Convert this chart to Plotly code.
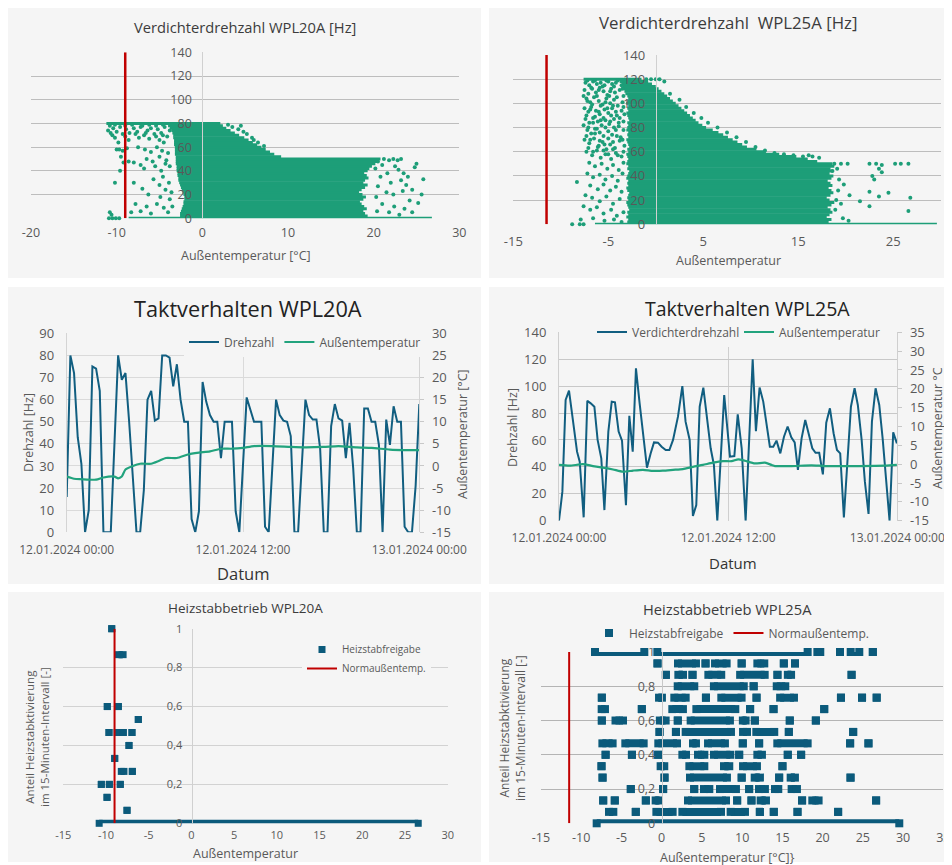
import pandas as pd
import plotly.graph_objects as go

# The page body has an 8 px margin: the figure is drawn 8 px in, so its size is reduced by that.
W, H = 952, 865
OFF = 8
WF, HF = W - OFF, H - OFF
FONT = "Open Sans"
PANEL_BG = "#f5f5f5"
TICK_C = "#595959"
TITLE_C = "#3c3c3c"
GREEN = "#1d9e78"
TEMP_GREEN = "#22a37d"
TEAL = "#115e80"
SQUARE = "#0b5a7b"
RED = "#c00000"

# ====================== DATA ======================
# --- Panel 1: Verdichterdrehzahl WPL20A (dense band per Hz level + single points)
nat_20 = -9.0
y1_range = [0, 140]
x1_ticks = [-20, -10, 0, 10, 20, 30]
y1_ticks = [0, 20, 40, 60, 80, 100, 120, 140]
levels_20 = [0, 2, 4, 6, 8, 10, 12, 14, 16, 18, 20, 22, 24, 26, 28, 30, 32, 34, 36, 38, 40,
             42, 44, 46, 48, 50, 52, 54, 56, 58, 60, 62, 64, 66, 68, 70, 72, 74, 76, 78, 80]
xmin_20 = [-8.6, -2.6, -2.6, -2.5, -2.4, -2.3, -2.2, -2.2, -2.1, -2.1, -2.2, -2.3, -2.4, -2.5,
           -2.6, -2.7, -2.8, -2.8, -2.9, -2.9, -3.0, -3.0, -3.0, -3.1, -3.1, -3.1, -3.1, -3.2,
           -3.2, -3.2, -3.2, -3.3, -3.3, -3.3, -3.4, -3.4, -3.5, -3.6, -3.8, -4.0, -11.2]
xmax_20 = [26.8, 19.3, 19.0, 18.8, 19.2, 18.9, 18.6, 18.4, 18.8, 19.1, 18.7, 18.3, 18.6, 19.0,
           19.3, 18.8, 19.0, 19.4, 19.2, 18.9, 19.3, 19.5, 19.8, 20.2, 20.5, 20.8, 9.2, 8.4,
           7.9, 7.4, 6.9, 6.4, 5.9, 5.4, 4.9, 4.3, 3.8, 3.3, 2.8, 2.4, 2.1]
points_20 = [
    (-11.0, 74), (-10.7, 72), (-10.4, 76), (-10.0, 73), (-9.6, 77), (-9.3, 71), (-8.9, 75), (-8.5, 72),
    (-8.0, 76), (-7.6, 73), (-7.2, 77), (-6.8, 70), (-6.4, 74), (-6.0, 76), (-5.6, 71), (-5.2, 75),
    (-4.8, 72), (-4.4, 77), (-4.1, 69), (-3.8, 74), (-10.2, 68), (-8.6, 66), (-7.4, 68), (-6.2, 67),
    (-5.0, 66), (-4.5, 64), (-9.8, 64), (-10.0, 58), (-9.7, 58), (-9.3, 57), (-8.8, 59), (-7.5, 60),
    (-6.7, 58), (-6.0, 56), (-5.3, 60), (-4.7, 57), (-4.0, 55), (-9.5, 52), (-8.6, 48), (-9.2, 47),
    (-8.0, 47), (-7.2, 45), (-6.5, 50), (-5.8, 48), (-5.0, 52), (-4.2, 49), (-3.8, 44), (-9.6, 40),
    (-6.8, 42), (-5.5, 44), (-4.8, 40), (-4.3, 46), (-10.2, 30), (-8.0, 30), (-5.7, 33), (-4.6, 35),
    (-3.9, 30), (-7.0, 25), (-5.0, 28), (-4.3, 24), (-3.6, 22), (-6.3, 20), (-4.9, 18), (-3.8, 16),
    (-7.8, 12), (-6.5, 10), (-5.3, 12), (-4.5, 9), (-3.5, 10), (-8.3, 5), (-7.2, 6), (-6.0, 4),
    (-4.0, 5), (-10.8, 5), (-10.6, 3), (-10.9, 0), (-10.5, 0), (-10.1, 0), (-9.7, 0),
    (-10.8, 78), (-10.2, 79), (-9.0, 78), (-8.2, 79), (-7.0, 78), (-6.2, 79), (-5.4, 78), (-4.6, 79),
    (-10.5, 70), (-9.0, 69), (-7.8, 71), (-6.6, 72), (-5.4, 69), (-4.6, 70),
    (3.0, 79), (3.5, 77), (4.5, 78), (4.2, 75), (4.8, 73), (5.2, 71), (5.8, 68), (6.0, 66), (6.5, 64),
    (7.2, 61), (20.5, 48), (21.2, 50), (21.8, 49), (22.3, 50), (22.8, 49), (23.2, 50), (21.0, 45),
    (22.5, 44), (25.0, 46), (24.8, 43), (23.5, 38), (24.0, 35), (23.2, 32), (25.8, 33), (22.0, 30),
    (20.5, 27), (23.8, 28), (24.5, 24), (25.6, 20), (21.5, 22), (22.3, 20), (20.3, 18), (23.4, 23),
    (24.2, 15), (25.2, 13), (21.0, 12), (22.4, 10), (23.6, 8), (20.4, 6), (21.8, 5), (23.0, 3),
    (24.5, 5), (20.8, 35), (21.6, 38), (22.9, 41), (20.2, 42)]

# --- Panel 2: Verdichterdrehzahl WPL25A
nat_25 = -11.5
y2_range = [0, 140]
x2_ticks = [-15, -5, 5, 15, 25]
y2_ticks = [0, 20, 40, 60, 80, 100, 120, 140]
levels_25 = [0, 2, 4, 6, 8, 10, 12, 14, 16, 18, 20, 22, 24, 26, 28, 30, 32, 34, 36, 38, 40,
             42, 44, 46, 48, 50, 52, 54, 56, 58, 60, 62, 64, 66, 68, 70, 72, 74, 76, 78, 80,
             82, 84, 86, 88, 90, 92, 94, 96, 98, 100, 102, 104, 106, 108, 110, 112, 114, 116,
             118, 120]
xmin_25 = [-6.4,
           -3.0, -2.9, -3.1, -2.9, -3.0, -2.8, -2.9, -3.0, -3.1, -2.9,
           -3.0, -2.9, -2.8, -3.0, -3.1, -2.9, -3.0, -2.9, -3.1, -3.0,
           -2.9, -2.8, -3.0, -2.9, -3.1, -3.0, -2.9, -3.0, -3.1, -2.9,
           -3.0, -2.8, -2.9, -3.0, -3.1, -2.9, -3.0, -2.9, -3.1, -3.0,
           -2.9, -3.0, -2.8, -2.9, -3.0, -3.1, -2.9, -3.0, -2.9, -3.1,
           -3.0, -2.9, -3.0, -3.2, -3.3, -3.4, -3.5, -3.6, -3.8,
           -7.6]
xmax_25 = [29.6,
           18.2, 18.5, 18.0, 18.3, 18.6, 18.4, 18.1, 18.5, 18.8, 18.3, 18.0, 18.4,
           18.7, 18.5, 18.2, 18.6, 18.4, 18.1, 18.5, 18.7, 18.3, 18.6, 18.4, 18.8,
           18.6,
           17.0, 16.0, 14.8, 13.0, 11.6, 10.6, 9.6, 9.1, 8.6, 8.1, 7.6, 7.1, 6.6, 6.0,
           5.3, 4.9, 4.5, 4.2, 3.9, 3.6, 3.3, 3.0, 2.7, 2.4, 2.1, 1.8, 1.5, 1.2, 0.9,
           0.6, 0.3, 0.0, -0.4, -0.8,
           -1.5]
points_25 = [
    (-7.4, 117), (-7.0, 115), (-6.6, 118), (-6.2, 116), (-5.8, 117), (-5.4, 115), (-5.0, 118),
    (-4.6, 116), (-4.2, 117), (-3.6, 115), (-7.5, 111), (-7.1, 108), (-6.7, 112), (-6.3, 109),
    (-5.9, 113), (-5.5, 110), (-5.1, 107), (-4.7, 112), (-4.3, 109), (-3.8, 111), (-3.4, 106),
    (-7.3, 104), (-6.9, 101), (-6.5, 105), (-6.0, 102), (-5.6, 99), (-5.2, 104), (-4.8, 100),
    (-4.4, 103), (-4.0, 98), (-3.5, 101), (-7.5, 96), (-7.1, 93), (-6.8, 97), (-6.3, 94), (-5.9, 91),
    (-5.4, 95), (-5.0, 92), (-4.6, 96), (-4.1, 90), (-3.6, 94), (-7.4, 87), (-7.0, 84), (-6.6, 88),
    (-6.1, 85), (-5.7, 82), (-5.3, 86), (-4.9, 83), (-4.4, 87), (-3.9, 81), (-3.4, 85), (-7.2, 78),
    (-6.8, 75), (-6.4, 79), (-5.9, 76), (-5.5, 73), (-5.0, 77), (-4.6, 74), (-4.2, 78), (-3.7, 72),
    (-7.5, 70), (-7.0, 67), (-6.5, 71), (-6.1, 64), (-5.6, 68), (-5.2, 62), (-4.8, 66), (-4.3, 63),
    (-3.8, 69), (-3.3, 65), (-7.3, 60), (-6.7, 57), (-6.2, 61), (-5.8, 55), (-5.3, 58), (-4.7, 54),
    (-4.2, 59), (-3.6, 56), (-7.0, 51), (-6.4, 48), (-5.7, 50), (-5.1, 46), (-4.5, 49), (-3.9, 45),
    (-3.4, 51), (-7.2, 42), (-6.6, 39), (-5.9, 41), (-5.3, 37), (-4.6, 40), (-4.0, 36), (-3.5, 42),
    (-8.3, 35), (-6.9, 32), (-6.1, 29), (-5.5, 33), (-4.8, 28), (-4.2, 31), (-3.6, 27), (-7.4, 24),
    (-6.7, 22), (-5.9, 19), (-5.2, 23), (-4.5, 17), (-3.8, 21), (-7.6, 15), (-6.9, 12), (-6.2, 14),
    (-5.5, 9), (-4.7, 12), (-4.1, 7), (-3.4, 10), (-7.9, 4), (-6.6, 5), (-5.4, 3), (-4.4, 4),
    (-3.6, 2), (-8.8, 0), (-8.0, 0), (-7.6, 0),
    (-7.2, 119), (-6.8, 113), (-6.4, 119), (-6.0, 111), (-5.6, 114), (-5.2, 119), (-4.8, 110),
    (-4.4, 114), (-4.0, 119), (-3.5, 112), (-7.6, 106), (-7.2, 102), (-6.7, 99), (-6.2, 106),
    (-5.8, 98), (-5.3, 101), (-4.9, 106), (-4.5, 98), (-4.1, 105), (-3.4, 97), (-7.3, 90), (-6.9, 95),
    (-6.4, 89), (-6.0, 93), (-5.5, 88), (-5.1, 96), (-4.7, 90), (-4.2, 93), (-3.8, 88), (-3.3, 91),
    (-7.6, 82), (-7.1, 80), (-6.6, 84), (-6.2, 79), (-5.8, 86), (-5.3, 80), (-4.8, 85), (-4.4, 80),
    (-3.9, 84), (-3.4, 78), (-7.3, 73), (-6.9, 70), (-6.4, 75), (-5.9, 69), (-5.4, 66), (-5.0, 71),
    (-4.5, 68), (-4.1, 73), (-3.5, 70), (-7.1, 63), (-6.6, 60), (-6.0, 65), (-5.5, 61), (-5.0, 58),
    (-4.5, 62), (-4.0, 57), (-3.4, 60),
    (-1.0, 120), (-0.5, 120), (0.0, 120), (0.4, 120), (0.9, 118), (1.5, 108), (2.5, 103), (3.2, 97),
    (4.0, 92), (4.8, 88), (5.5, 84), (6.5, 80), (7.5, 76), (8.5, 72), (9.5, 68), (10.5, 64),
    (11.5, 61), (12.5, 59), (13.5, 58), (14.5, 57), (15.5, 56), (16.5, 56), (17.2, 55), (16.1, 57),
    (18.8, 50), (19.5, 50), (20.2, 50), (22.5, 50), (23.2, 50), (23.8, 49), (25.2, 50), (25.8, 50),
    (26.6, 50), (23.5, 46), (23.8, 43), (22.8, 40), (23.0, 37), (19.3, 37), (19.8, 33), (22.5, 27),
    (24.5, 26), (26.8, 22), (23.5, 23), (19.0, 20), (19.5, 17), (21.5, 19), (22.5, 15), (26.6, 11),
    (19.2, 28), (20.4, 24), (19.7, 5), (20.3, 3), (18.9, 12), (18.6, 44), (19.1, 46)]

# --- Panel 3: Taktverhalten WPL20A (hours after 12.01.2024 00:00)
h20 = [0, 0.25, 0.5, 0.75, 1.0, 1.25, 1.5, 1.75, 2.0, 2.25, 2.5, 2.75, 3.0, 3.5, 3.75, 4.0, 4.25,
       4.75, 5.0, 5.25, 5.5, 5.75, 6.0, 6.25, 6.5, 6.75, 7.0, 7.25, 7.5, 7.75, 8.0, 8.25, 8.5,
       8.75, 9.0, 9.25, 9.5, 9.75, 10.0, 10.25, 10.5, 10.75, 11.0, 11.25, 11.5, 11.75, 12.25,
       12.5, 12.75, 13.0, 13.25, 13.5, 13.75, 14.25, 14.5, 14.75, 15.0, 15.25, 15.5, 15.75,
       16.25, 16.5, 16.75, 17.0, 17.25, 17.5, 17.75, 18.0, 18.25, 18.5, 18.75, 19.0, 19.25,
       19.5, 19.75, 20.0, 20.25, 20.5, 20.75, 21.0, 21.25, 21.5, 21.75, 22.0, 22.25, 22.5,
       22.75, 23.0, 23.25, 23.5, 23.75, 24.0]
drehzahl_20 = [16, 80, 72, 43, 31, 0, 10, 75, 74, 64, 0, 0, 0, 80, 69, 72, 50, 0, 0, 19, 60, 64,
               50.5, 51.5, 80, 80, 79, 66, 76, 60, 50, 50, 6, 0, 9.5, 68, 59, 53, 50, 50, 33.5,
               50, 50, 50, 9.5, 0, 61, 55, 50, 50, 50, 2.5, 0, 60, 53, 50.5, 50, 43.5, 0, 0, 60,
               53, 51, 51, 38, 0, 0, 48, 58, 51.5, 50.5, 33.5, 49.5, 29, 0, 0, 56, 56, 50, 50,
               39.5, 0, 51, 39.5, 57, 50, 50, 2.5, 0, 0, 21, 58]
t20_h = [0, 0.5, 1.0, 2.0, 2.5, 3.25, 3.5, 3.75, 4.0, 4.5, 5.0, 5.75, 6.25, 6.75, 7.5, 8.25, 9.0,
         9.75, 10.5, 11.25, 12.0, 12.75, 14.0, 15.25, 16.25, 17.5, 18.5, 19.75, 20.75, 22.0,
         23.0, 24.0]
temp_20 = [-2.4, -2.9, -3.0, -3.1, -2.6, -2.4, -2.8, -2.4, -0.8, 0.0, 0.5, 0.5, 1.1, 1.8, 1.8,
           2.6, 3.0, 3.3, 3.9, 3.9, 4.1, 4.5, 4.5, 4.3, 4.2, 4.3, 4.5, 4.2, 4.1, 3.7, 3.6, 3.6]
y3_ticks = [0, 10, 20, 30, 40, 50, 60, 70, 80, 90]
y4_ticks = [-15, -10, -5, 0, 5, 10, 15, 20, 25, 30]

# --- Panel 4: Taktverhalten WPL25A
h25 = [0, 0.24, 0.47, 0.71, 1.28, 1.47, 1.75, 2.01, 2.25, 2.51, 2.74, 3.0, 3.22, 3.5, 3.74,
       3.97, 4.23, 4.47, 4.75, 4.99, 5.23, 5.46, 5.72, 5.96, 6.24, 6.5, 6.74, 7.02, 7.28, 7.57,
       7.83, 8.09, 8.44, 8.75, 8.98, 9.27, 9.5, 9.74, 9.98, 10.24, 10.5, 10.76, 10.99, 11.23,
       11.72, 12.13, 12.44, 12.68, 12.96, 13.24, 13.74, 13.97, 14.23, 14.49, 14.96, 15.2,
       15.43, 15.7, 15.96, 16.22, 16.48, 16.72, 16.95, 17.21, 17.47, 17.7, 17.97, 18.2, 18.46,
       18.72, 18.96, 19.22, 19.48, 19.72, 19.95, 20.21, 20.71, 20.97, 21.2, 21.47, 21.7, 21.96,
       22.2, 22.46, 22.72, 22.96, 23.19, 23.45, 23.71, 23.97]
drehzahl_25 = [0, 21.6, 89.7, 96.6, 51.3, 43.9, 2.5, 89.2, 87.2, 84.7, 60, 46.3, 7.9, 66.2, 88.5,
               88, 66.2, 59.5, 11.6, 78, 51.3, 113.2, 87.2, 66, 39.4, 50, 58.2, 58, 55, 52.5,
               52.5, 60, 77.3, 100, 73.6, 60, 3.5, 11.6, 84.7, 98.9, 77.3, 53.8, 41.4, 0, 93.4,
               47.6, 48, 79, 53.8, 0, 120, 66.6, 99, 88.5, 55, 55, 59.5, 50, 62.4, 70, 62, 58.2,
               37.7, 61.2, 74.8, 65, 53.8, 50.5, 50.5, 34.4, 72.8, 83.5, 65, 52.5, 50, 2.5, 84.7,
               98.4, 86, 60, 29, 5, 73.6, 98.4, 86, 61.2, 34, 0, 65.7, 57.5]
t25_h = [0, 0.76, 1.7, 2.41, 3.12, 3.83, 4.54, 5.25, 5.96, 6.67, 7.38, 8.09, 8.79, 9.5, 10.21,
         10.92, 11.63, 12.25, 12.72, 13.19, 13.9, 14.61, 15.08, 15.32, 16.5, 17.92, 18.87,
         21.23, 23.12, 23.97]
temp_25 = [-0.2, -0.4, 0.0, -0.5, -0.9, -1.4, -2.0, -1.7, -1.5, -1.8, -1.7, -1.5, -1.3, -0.7,
           -0.2, 0.4, 0.8, 0.8, 1.3, 0.9, 0.2, 0.4, -0.2, -0.5, -0.5, -0.3, -0.5, -0.5, -0.4, -0.2]
y5_ticks = [0, 20, 40, 60, 80, 100, 120, 140]
y6_ticks = [-15, -10, -5, 0, 5, 10, 15, 20, 25, 30, 35]
date_ticks = ["2024-01-12 00:00", "2024-01-12 12:00", "2024-01-13 00:00"]
date_labels = ["12.01.2024 00:00", "12.01.2024 12:00", "13.01.2024 00:00"]

# --- Panel 5/6: Heizstabbetrieb (row = 15-min share k/15, x_start, x_end)
heiz_20 = [
    (15, -9.33, -9.33), (13, -8.55, -8.0), (9, -9.85, -9.85), (9, -8.56, -8.56), (8, -6.22, -6.22),
    (7, -9.65, -9.65), (7, -8.68, -8.68), (7, -7.98, -7.98), (7, -6.96, -6.96), (6, -7.31, -7.31),
    (5, -8.98, -8.98), (4, -8.21, -7.9), (4, -6.92, -6.92), (3, -10.55, -10.55), (3, -9.61, -9.61),
    (3, -8.33, -8.33), (2, -9.88, -9.88), (1, -7.54, -7.54), (0, -10.8, 26.55)]
heiz_25 = [
    (15, -8.29, -2.16), (15, -0.54, 18.14), (15, 19.35, 19.71), (15, 22.16, 22.16), (15, 23.49, 24.56),
    (15, 26.24, 26.24),
    (14, -0.52, -0.52), (14, 2.03, 4.26), (14, 5.45, 5.45), (14, 6.63, 8.07), (14, 9.94, 9.94),
    (14, 11.89, 12.75), (14, 15.18, 15.18), (14, 16.57, 16.57),
    (13, 0.52, 0.52), (13, 2.07, 2.65), (13, 3.83, 3.83), (13, 5.8, 7.4), (13, 9.75, 12.8),
    (13, 14.39, 14.39), (13, 15.68, 16.08), (13, 23.6, 23.6),
    (12, 1.99, 4.05), (12, 6.49, 10.2), (12, 11.43, 11.43), (12, 14.3, 15.36),
    (11, -7.44, -7.44), (11, -0.33, 0.03), (11, 1.57, 2.98), (11, 5.5, 5.5), (11, 7.41, 9.93),
    (11, 11.79, 11.79), (11, 14.72, 16.44), (11, 22.28, 22.28), (11, 24.9, 24.9), (11, 26.72, 26.72),
    (10, -7.46, -7.05), (10, -2.47, -2.47), (10, 1.32, 2.64), (10, 4.31, 9.15), (10, 10.99, 10.99),
    (10, 13.9, 13.9), (10, 20.2, 20.2),
    (9, -7.44, -7.44), (9, -5.74, -4.81), (9, -0.23, 0.49), (9, 2.0, 2.0), (9, 3.6, 8.48),
    (9, 10.09, 10.43), (9, 11.58, 11.58), (9, 15.92, 15.92), (9, 19.16, 19.16),
    (8, -0.27, -0.27), (8, 1.77, 1.77), (8, 2.98, 8.61), (8, 10.11, 10.6), (8, 11.76, 13.99),
    (8, 15.8, 15.8), (8, 23.8, 23.8),
    (7, -7.37, -6.1), (7, -4.52, -2.24), (7, -0.42, 1.9), (7, 3.89, 4.26), (7, 5.76, 7.86),
    (7, 10.08, 10.08), (7, 12.11, 12.11), (7, 14.37, 18.14), (7, 23.42, 23.42), (7, 25.7, 25.7),
    (6, -6.97, -6.97), (6, -3.7, -3.7), (6, -0.44, -0.44), (6, 2.57, 3.02), (6, 4.51, 5.3),
    (6, 6.5, 8.53), (6, 9.63, 9.63), (6, 11.89, 12.46), (6, 15.67, 15.67), (6, 17.33, 17.33),
    (5, -7.48, -7.48), (5, -0.13, 0.32), (5, 3.44, 5.3), (5, 7.74, 8.4), (5, 10.11, 11.84),
    (5, 15.01, 15.01),
    (4, -7.35, -7.35), (4, 0.35, 0.35), (4, 3.52, 8.11), (4, 9.94, 9.94), (4, 11.56, 12.21),
    (4, 14.6, 14.6), (4, 16.03, 16.56), (4, 23.47, 23.47),
    (3, -3.84, -3.84), (3, 0.18, 0.18), (3, 4.04, 4.04), (3, 5.26, 5.92), (3, 7.25, 9.23),
    (3, 10.87, 10.87), (3, 12.09, 12.83), (3, 14.08, 14.49), (3, 16.15, 16.81),
    (2, -7.27, -7.27), (2, -5.83, -5.83), (2, -1.97, -1.97), (2, -0.75, -0.38), (2, 3.27, 7.99),
    (2, 9.38, 9.38), (2, 11.16, 11.16), (2, 12.3, 12.96), (2, 17.45, 17.45), (2, 18.72, 19.5),
    (2, 26.65, 26.65),
    (1, -6.55, -6.01), (1, -3.22, -3.22), (1, -0.66, 1.36), (1, 2.57, 7.37), (1, 8.57, 10.35),
    (1, 12.2, 12.2), (1, 13.93, 13.93), (1, 16.88, 16.88), (1, 21.93, 21.93),
    (0, -8.08, 29.53)]
intervals = 15
share_range = [0, 1]
x5_ticks = [-15, -10, -5, 0, 5, 10, 15, 20, 25, 30]
x6_ticks = [-15, -10, -5, 0, 5, 10, 15, 20, 25, 30, 35]
share_ticks = [0, 0.2, 0.4, 0.6, 0.8, 1]


# ====================== HELPERS ======================
def lab(v):
    return ("%g" % v).replace(".", ",")


def band_xy(lv, x0, x1):
    X, Y = [], []
    for y, a, b in zip(lv, x0, x1):
        X += [a, b, None]
        Y += [y, y, None]
    return X, Y


def heiz_traces(data, xa, ya, size, leg):
    LX, LY, MX, MY = [], [], [], []
    for row, a, b in data:
        v = row / intervals
        MX += [a, b]
        MY += [v, v]
        if b > a:
            LX += [a, b, None]
            LY += [v, v, None]
    return [
        go.Scatter(x=LX, y=LY, mode="lines", line=dict(color=SQUARE, width=size),
                   xaxis=xa, yaxis=ya, showlegend=False, hoverinfo="skip", cliponaxis=False),
        go.Scatter(x=MX, y=MY, mode="markers", name="Heizstabfreigabe",
                   marker=dict(symbol="square", size=size, color=SQUARE, line=dict(width=0)),
                   xaxis=xa, yaxis=ya, legend=leg, cliponaxis=False),
    ]


base = pd.Timestamp("2024-01-12 00:00")
x20 = base + pd.to_timedelta(h20, unit="h")
xt20 = base + pd.to_timedelta(t20_h, unit="h")
x25 = base + pd.to_timedelta(h25, unit="h")
xt25 = base + pd.to_timedelta(t25_h, unit="h")

fig = go.Figure()

# Panel 1
bx, by = band_xy(levels_20, xmin_20, xmax_20)
fig.add_trace(go.Scatter(x=bx, y=by, mode="lines", line=dict(color=GREEN, width=3),
                         xaxis="x", yaxis="y", showlegend=False, hoverinfo="skip", cliponaxis=False))
fig.add_trace(go.Scatter(x=[p[0] for p in points_20], y=[p[1] for p in points_20], mode="markers",
                         marker=dict(size=4, color=GREEN), xaxis="x", yaxis="y",
                         showlegend=False, cliponaxis=False))
fig.add_trace(go.Scatter(x=[nat_20, nat_20], y=y1_range, mode="lines", line=dict(color=RED, width=2.5),
                         xaxis="x", yaxis="y", showlegend=False))

# Panel 2
bx, by = band_xy(levels_25, xmin_25, xmax_25)
fig.add_trace(go.Scatter(x=bx, y=by, mode="lines", line=dict(color=GREEN, width=3),
                         xaxis="x2", yaxis="y2", showlegend=False, hoverinfo="skip", cliponaxis=False))
fig.add_trace(go.Scatter(x=[p[0] for p in points_25], y=[p[1] for p in points_25], mode="markers",
                         marker=dict(size=4, color=GREEN), xaxis="x2", yaxis="y2",
                         showlegend=False, cliponaxis=False))
fig.add_trace(go.Scatter(x=[nat_25, nat_25], y=y2_range, mode="lines", line=dict(color=RED, width=2.5),
                         xaxis="x2", yaxis="y2", showlegend=False))

# Panel 3
fig.add_trace(go.Scatter(x=x20, y=drehzahl_20, mode="lines", name="Drehzahl",
                         line=dict(color=TEAL, width=2), xaxis="x3", yaxis="y3", legend="legend"))
fig.add_trace(go.Scatter(x=xt20, y=temp_20, mode="lines", name="Außentemperatur",
                         line=dict(color=TEMP_GREEN, width=2.2, shape="spline", smoothing=0.6),
                         xaxis="x3", yaxis="y4", legend="legend"))

# Panel 4
fig.add_trace(go.Scatter(x=x25, y=drehzahl_25, mode="lines", name="Verdichterdrehzahl",
                         line=dict(color=TEAL, width=2), xaxis="x4", yaxis="y5", legend="legend2"))
fig.add_trace(go.Scatter(x=xt25, y=temp_25, mode="lines", name="Außentemperatur",
                         line=dict(color=TEMP_GREEN, width=2.2, shape="spline", smoothing=0.6),
                         xaxis="x4", yaxis="y6", legend="legend2"))

# Panel 5
for t in heiz_traces(heiz_20, "x5", "y7", 7, "legend3"):
    fig.add_trace(t)
fig.add_trace(go.Scatter(x=[nat_20, nat_20], y=share_range, mode="lines", name="Normaußentemp.",
                         line=dict(color=RED, width=2), xaxis="x5", yaxis="y7", legend="legend3"))

# Panel 6
for t in heiz_traces(heiz_25, "x6", "y8", 8, "legend4"):
    fig.add_trace(t)
fig.add_trace(go.Scatter(x=[nat_25, nat_25], y=share_range, mode="lines", name="Normaußentemp.",
                         line=dict(color=RED, width=2), xaxis="x6", yaxis="y8", legend="legend4"))


# ====================== LAYOUT ======================
def px(p):
    return (p - OFF) / WF


def py(p):
    return 1 - (p - OFF) / HF


def dx(a, b):
    return [px(a), px(b)]


def dy(top, bottom):
    return [py(bottom), py(top)]


def tf(size):
    return dict(family=FONT, size=size, color=TICK_C)


def num_x(domain, rng, ticks, anchor, size, standoff):
    return dict(domain=domain, range=rng, tickvals=ticks, ticktext=[lab(v) for v in ticks],
                showgrid=False, zeroline=False, showline=False, ticks="", anchor=anchor,
                tickfont=tf(size), ticklabelstandoff=standoff, automargin=False)


def num_y(domain, rng, ticks, pos, size, grid, line, standoff):
    return dict(domain=domain, range=rng, tickvals=ticks, ticktext=[lab(v) for v in ticks],
                showgrid=True, gridcolor=grid, gridwidth=1, zeroline=False, anchor="free",
                position=pos, showline=True, linecolor=line, linewidth=1, ticks="",
                tickfont=tf(size), ticklabelstandoff=standoff, automargin=False)


def leg(x, y, yanchor, orient, size, entry=None):
    d = dict(x=px(x), y=py(y), xref="container", yref="container", xanchor="left",
             yanchor=yanchor, orientation=orient, bgcolor=PANEL_BG,
             font=dict(family=FONT, size=size, color=TICK_C), itemwidth=30)
    if entry:
        d["entrywidth"] = entry
    return d


layout = dict(
    template="none",
    width=WF, height=HF, autosize=False, margin=dict(l=0, r=0, t=0, b=0, autoexpand=False),
    paper_bgcolor="white", plot_bgcolor=PANEL_BG, font=dict(family=FONT, color=TICK_C),
    xaxis=num_x(dx(31, 459.3), [-20, 30], x1_ticks, "y", 12.5, 5),
    yaxis=num_y(dy(52.3, 218.3), y1_range, y1_ticks, px(202.3), 12.5, "#bdbdbd", "#d0d0d0", 8),
    xaxis2=num_x(dx(513.3, 940.7), [-15, 30], x2_ticks, "y2", 13, 8),
    yaxis2=num_y(dy(55, 224.3), y2_range, y2_ticks, px(655.8), 13, "#bdbdbd", "#d0d0d0", 8),
    xaxis3=dict(domain=dx(66.7, 419.3), type="date", range=[date_ticks[0], date_ticks[-1]],
                tickvals=date_ticks, ticktext=date_labels, showgrid=True, gridcolor="#dadada",
                zeroline=False, showline=False, ticks="", anchor="y3", tickfont=tf(12),
                ticklabelstandoff=9, automargin=False),
    yaxis3=dict(domain=dy(333.3, 532.3), range=[0, 90], tickvals=y3_ticks,
                ticktext=[lab(v) for v in y3_ticks], showgrid=True, gridcolor="#dadada",
                zeroline=False, showline=True, linecolor="#d4d4d4", ticks="", anchor="x3",
                tickfont=tf(13), ticklabelstandoff=9, automargin=False),
    yaxis4=dict(domain=dy(333.3, 532.3), range=[-15, 30], tickvals=y4_ticks,
                ticktext=[lab(v) for v in y4_ticks], showgrid=False, zeroline=False,
                showline=True, linecolor="#d4d4d4", ticks="outside", ticklen=4,
                tickcolor="#c8c8c8", side="right", overlaying="y3", anchor="x3",
                tickfont=tf(13), ticklabelstandoff=5, automargin=False),
    xaxis4=dict(domain=dx(559, 897.3), type="date", range=[date_ticks[0], date_ticks[-1]],
                tickvals=date_ticks, ticktext=date_labels, showgrid=True, gridcolor="#cfcfcf",
                zeroline=False, showline=False, ticks="", anchor="y5", tickfont=tf(12),
                ticklabelstandoff=8, automargin=False),
    yaxis5=dict(domain=dy(332.3, 520.7), range=[0, 140], tickvals=y5_ticks,
                ticktext=[lab(v) for v in y5_ticks], showgrid=True, gridcolor="#c8c8c8",
                zeroline=False, showline=True, linecolor="#cfcfcf", ticks="", anchor="x4",
                tickfont=tf(13), ticklabelstandoff=9, automargin=False),
    yaxis6=dict(domain=dy(332.3, 520.7), range=[-15, 35], tickvals=y6_ticks,
                ticktext=[lab(v) for v in y6_ticks], showgrid=False, zeroline=False,
                showline=True, linecolor="#cfcfcf", ticks="outside", ticklen=4,
                tickcolor="#c8c8c8", side="right", overlaying="y5", anchor="x4",
                tickfont=tf(13), ticklabelstandoff=5, automargin=False),
    xaxis5=num_x(dx(63.3, 447.7), [-15, 30], x5_ticks, "y7", 11, 4),
    yaxis7=num_y(dy(628.7, 823.3), share_range, share_ticks, px(191.5), 11, "#d2d2d2", "#d0d0d0", 7),
    xaxis6=num_x(dx(541, 943.3), [-15, 35], x6_ticks, "y8", 12.5, 5),
    yaxis8=num_y(dy(652, 823.3), share_range, share_ticks, px(661.7), 12.5, "#b4b4b4", "#c8c8c8", 4),
    legend=leg(184, 342, "middle", "h", 12),
    legend2=leg(592, 332, "middle", "h", 12, 102),
    legend3=leg(302, 635, "top", "v", 10),
    legend4=leg(589, 633, "middle", "h", 12),
)

panels = [(7, 7, 481, 278), (489, 7, 945, 278), (7, 287, 481, 584),
          (489, 287, 945, 584), (7, 592, 481, 862), (489, 592, 945, 862)]
layout["shapes"] = [dict(type="rect", xref="paper", yref="paper", x0=px(a), x1=px(c),
                         y0=py(d), y1=py(b), fillcolor=PANEL_BG,
                         line=dict(width=0), layer="below") for a, b, c, d in panels]


def ann(text, x, y, size, color=TITLE_C, angle=0):
    return dict(text=text, x=px(x), y=py(y), xref="paper", yref="paper", showarrow=False,
                font=dict(family=FONT, size=size, color=color), textangle=angle,
                xanchor="center", yanchor="middle")


layout["annotations"] = [
    ann("Verdichterdrehzahl WPL20A [Hz]", 245, 27, 14.7),
    ann("Außentemperatur [°C]", 246, 255, 12.5, TICK_C),
    ann("Verdichterdrehzahl  WPL25A [Hz]", 728, 23, 16.8),
    ann("Außentemperatur", 728, 260, 12.5, TICK_C),
    ann("Taktverhalten WPL20A", 248, 308, 21.7, "#222222"),
    ann("Datum", 243, 573, 16.5, "#333333"),
    ann("Drehzahl [Hz]", 28, 433, 12.5, TICK_C, -90),
    ann("Außentemperatur [°C]", 462, 434, 12.5, TICK_C, -90),
    ann("Taktverhalten WPL25A", 747, 308, 19.5, "#222222"),
    ann("Datum", 733, 563, 15, "#333333"),
    ann("Drehzahl [Hz]", 513, 427, 12.5, TICK_C, -90),
    ann("Außentemperatur °C", 937, 428, 12.5, TICK_C, -90),
    ann("Heizstabbetrieb WPL20A", 245, 608, 13.5),
    ann("Außentemperatur", 245, 853, 12.5, TICK_C),
    ann("Anteil Heizstabktivierung<br>im 15-Minuten-Intervall [-]", 37, 737, 11.5, TICK_C, -90),
    ann("Heizstabbetrieb WPL25A", 727, 609, 14.7),
    ann("Außentemperatur [°C]}", 727, 857, 12.5, TICK_C),
    ann("Anteil Heizstabktivierung<br>im 15-Minuten-Intervall [-]", 512, 728, 12, TICK_C, -90),
]

fig.update_layout(**layout)
fig.write_html("out.html")
